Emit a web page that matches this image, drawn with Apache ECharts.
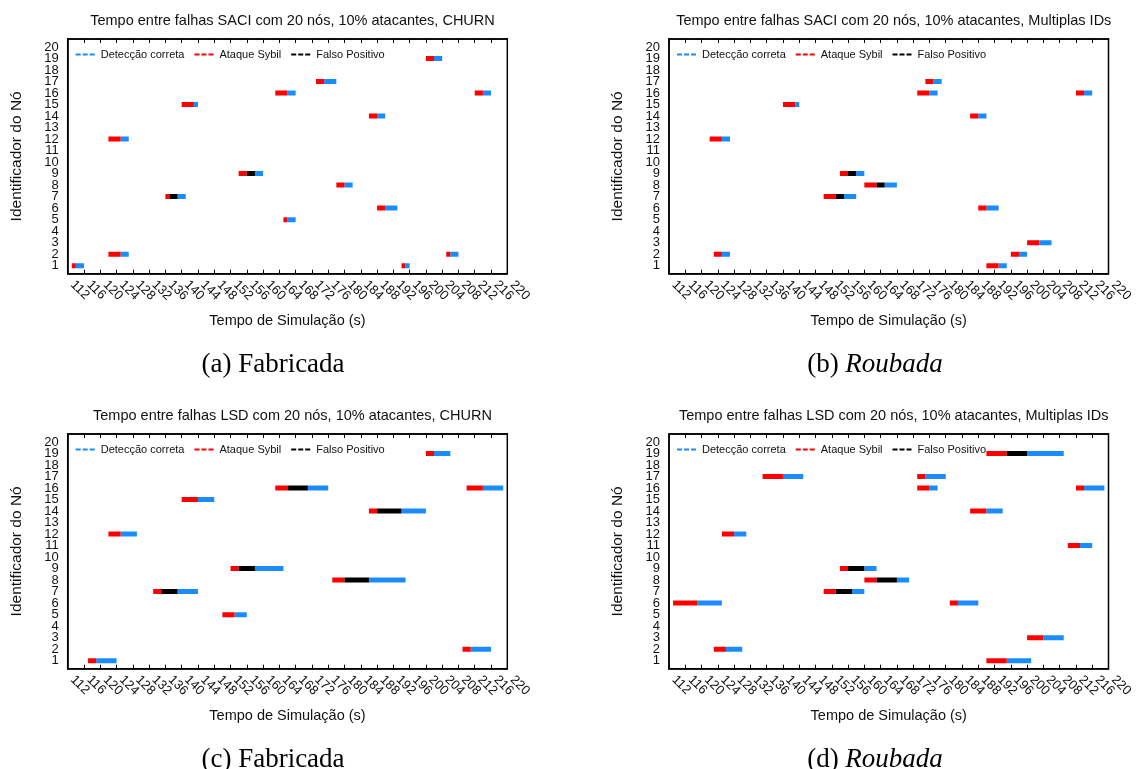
<!DOCTYPE html>
<html>
<head>
<meta charset="utf-8">
<script src="https://cdn.jsdelivr.net/npm/echarts@6/dist/echarts.min.js"></script>
<style>html,body{margin:0;padding:0;background:#fff}#c{width:1136px;height:769px}</style>
</head>
<body>
<div id="c"></div>
<script>
// Each bar: [node, attackStart, attackEnd, falsePositiveEnd, detectionEnd]
const saciChurn = [
  [1,113,114,114,116],[1,194,195,195,196],[2,122,125,125,127],[2,205,206,206,208],
  [5,165,166,166,168],[6,188,190,190,193],[7,136,137,139,141],[8,178,180,180,182],
  [9,154,156,158,160],[12,122,125,125,127],[14,186,188,188,190],[15,140,143,143,144],
  [16,163,166,166,168],[16,212,214,214,216],[17,173,175,175,178],[19,200,202,202,204]
];
const saciMulti = [
  [1,190,193,193,195],[2,123,125,125,127],[2,196,198,198,200],[3,200,203,203,206],
  [6,188,190,190,193],[7,150,153,155,158],[8,160,163,165,168],[9,154,156,158,160],
  [12,122,125,125,127],[14,186,188,188,190],[15,140,143,143,144],[16,173,176,176,178],
  [16,212,214,214,216],[17,175,177,177,179]
];
const lsdChurn = [
  [1,117,119,119,124],[2,209,211,211,216],[5,150,153,153,156],[7,133,135,139,144],
  [8,177,180,186,195],[9,152,154,158,165],[12,122,125,125,129],[14,186,188,194,200],
  [15,140,144,144,148],[16,163,166,171,176],[16,210,214,214,219],[19,200,202,202,206]
];
const lsdMulti = [
  [1,190,195,195,201],[2,123,126,126,130],[3,200,204,204,209],[6,113,119,119,125],
  [6,181,183,183,188],[7,150,153,157,160],[8,160,163,168,171],[9,154,156,160,163],
  [11,210,213,213,216],[12,125,128,128,131],[14,186,190,190,194],[16,173,176,176,178],
  [16,212,214,214,219],[17,135,140,140,145],[17,173,175,175,180],[19,190,195,200,209]
];
const xTickLabels = [112,116,120,124,128,132,136,140,144,148,152,156,160,164,168,172,176,180,184,188,192,196,200,204,208,212,216,220];
const yTickLabels = [1,2,3,4,5,6,7,8,9,10,11,12,13,14,15,16,17,18,19,20];
const titles = [
  'Tempo entre falhas SACI com 20 nós, 10% atacantes, CHURN',
  'Tempo entre falhas SACI com 20 nós, 10% atacantes, Multiplas IDs',
  'Tempo entre falhas LSD com 20 nós, 10% atacantes, CHURN',
  'Tempo entre falhas LSD com 20 nós, 10% atacantes, Multiplas IDs'
];
const captions = ['(a) Fabricada', '(b) {i|Roubada}', '(c) Fabricada', '(d) {i|Roubada}'];
const seriesNames = ['Detecção correta', 'Ataque Sybil', 'Falso Positivo'];
const seriesColors = ['#1a8cff', '#ff0000', '#000000'];
const panels = [saciChurn, saciMulti, lsdChurn, lsdMulti];

const FONT = '"Liberation Sans", Arial, sans-serif';
const SERIF = '"Liberation Serif", "Times New Roman", serif';
const gridPos = [
  {left: 67.7, top: 39, width: 439.6, height: 234.7},
  {left: 669, top: 39, width: 439.5, height: 234.7},
  {left: 67.7, top: 434, width: 439.6, height: 234.7},
  {left: 669, top: 434, width: 439.5, height: 234.7}
];
const captionPos = [[268, 362], [870, 362], [268, 757], [870, 757]];

// split tick labels into two interleaved sets so none get hidden by overlap checks
const xLabA = xTickLabels.filter((v, k) => k % 2 === 0);
const xLabB = xTickLabels.filter((v, k) => k % 2 === 1);
const yLabA = yTickLabels.filter((v, k) => k % 2 === 0);
const yLabB = yTickLabels.filter((v, k) => k % 2 === 1);

const chart = echarts.init(document.getElementById('c'), null, {renderer: 'canvas'});

function renderSeg(params, api) {
  const y = api.value(0), x0 = api.value(1), x1 = api.value(2);
  if (x1 <= x0) return null;
  const p0 = api.coord([x0, y]);
  const p1 = api.coord([x1, y]);
  const h = 5;
  return {
    type: 'rect',
    shape: {x: p0[0], y: p0[1] - h / 2, width: p1[0] - p0[0], height: h},
    style: {fill: api.visual('color')}
  };
}

const xLabelStyle = {rotate: -45, margin: 4, padding: [0, 0, 0, 7], fontFamily: FONT, fontSize: 13, color: '#111',
  showMinLabel: true, showMaxLabel: true, hideOverlap: false};
const yLabelStyle = {margin: 9, fontFamily: FONT, fontSize: 13, color: '#111',
  showMinLabel: true, showMaxLabel: true, hideOverlap: false};

const grid = [], xAxis = [], yAxis = [], series = [], title = [], legend = [];
panels.forEach((bars, i) => {
  const xmin = xTickLabels[0], xmax = xTickLabels[xTickLabels.length - 1];
  grid.push(Object.assign({show: true, borderColor: '#000', borderWidth: 1.5, backgroundColor: '#fff'}, gridPos[i]));
  xAxis.push({
    type: 'value', gridIndex: i, min: xmin, max: xmax, interval: 4, position: 'bottom',
    name: 'Tempo de Simulação (s)', nameLocation: 'middle', nameGap: 40,
    nameTextStyle: {fontFamily: FONT, fontSize: 14.5, color: '#111'},
    axisLine: {lineStyle: {color: '#000', width: 1.5}},
    axisTick: {inside: true, length: 4, lineStyle: {color: '#000'}},
    axisLabel: Object.assign({customValues: xLabA}, xLabelStyle),
    splitLine: {show: false}
  });
  xAxis.push({
    type: 'value', gridIndex: i, min: xmin, max: xmax, interval: 4, position: 'bottom',
    axisLine: {show: false}, axisTick: {show: false},
    axisLabel: Object.assign({customValues: xLabB}, xLabelStyle),
    splitLine: {show: false}
  });
  xAxis.push({
    type: 'value', gridIndex: i, min: xmin, max: xmax, interval: 4, position: 'top',
    axisLine: {lineStyle: {color: '#000', width: 1.5}},
    axisTick: {inside: true, length: 4, lineStyle: {color: '#000'}},
    axisLabel: {show: false}, splitLine: {show: false}
  });
  yAxis.push({
    type: 'value', gridIndex: i, min: 0.3, max: 20.7, position: 'left',
    name: 'Identificador do Nó', nameLocation: 'middle', nameGap: 43,
    nameTextStyle: {fontFamily: FONT, fontSize: 15.5, color: '#111'},
    axisLine: {show: true, lineStyle: {color: '#000', width: 1.5}},
    axisTick: {show: false},
    axisLabel: Object.assign({customValues: yLabA}, yLabelStyle),
    splitLine: {show: false}
  });
  yAxis.push({
    type: 'value', gridIndex: i, min: 0.3, max: 20.7, position: 'left', offset: 0,
    axisLine: {show: false}, axisTick: {show: false},
    axisLabel: Object.assign({customValues: yLabB}, yLabelStyle),
    splitLine: {show: false}
  });
  const segs = [[], [], []];
  bars.forEach(b => {
    segs[1].push([b[0], b[1], b[2]]);
    segs[2].push([b[0], b[2], b[3]]);
    segs[0].push([b[0], b[3], b[4]]);
  });
  seriesNames.forEach((nm, k) => {
    series.push({
      type: 'custom', name: nm + '#' + i, xAxisIndex: 3 * i, yAxisIndex: 2 * i,
      itemStyle: {color: seriesColors[k]}, color: seriesColors[k],
      renderItem: renderSeg, encode: {x: [1, 2], y: 0}, data: segs[k],
      clip: true, silent: true
    });
  });
  title.push({
    text: titles[i], left: gridPos[i].left + gridPos[i].width / 2, top: gridPos[i].top - 31, textAlign: 'center',
    textStyle: {fontFamily: FONT, fontSize: 14.5, fontWeight: 'normal', color: '#111'}
  });
  title.push({
    text: captions[i], left: captionPos[i][0], top: captionPos[i][1] - 16, textAlign: 'center',
    textStyle: {fontFamily: SERIF, fontSize: 27, fontWeight: 'normal', color: '#000',
      rich: {i: {fontFamily: SERIF, fontSize: 27, fontStyle: 'italic', color: '#000'}}}
  });
  legend.push({
    data: seriesNames.map((n, k) => ({name: n + '#' + i, icon: 'path://M0,0h5v1h-5zM7,0h5v1h-5zM14,0h5v1h-5z',
      itemStyle: {color: seriesColors[k]}})),
    formatter: name => name.split('#')[0],
    left: gridPos[i].left + 8, top: gridPos[i].top + 10,
    itemWidth: 19, itemHeight: 2, symbolKeepAspect: false, itemGap: 10, selectedMode: false,
    textStyle: {fontFamily: FONT, fontSize: 11, color: '#111', padding: [0, 0, 0, 1]},
    padding: 0
  });
});

chart.setOption({animation: false, backgroundColor: '#fff', title, legend, grid, xAxis, yAxis, series});
</script>
</body>
</html>
